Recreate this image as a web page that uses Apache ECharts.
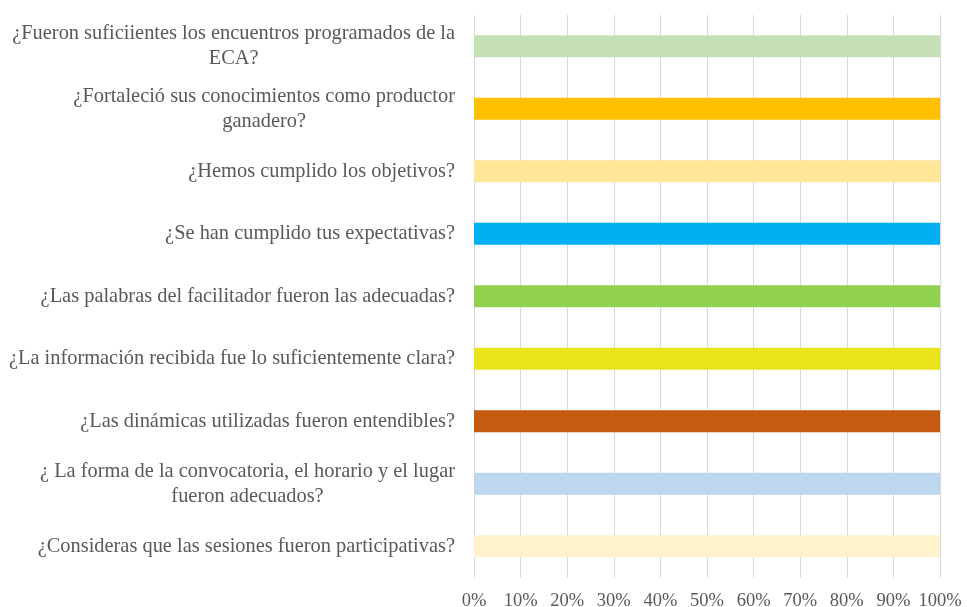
<!DOCTYPE html>
<html>
<head>
<meta charset="utf-8">
<script src="https://cdn.jsdelivr.net/npm/echarts@6/dist/echarts.min.js"></script>
<style>
  html, body { margin: 0; padding: 0; background: #ffffff; }
  #chart { width: 967px; height: 607px; }
</style>
</head>
<body>
<div id="chart"></div>
<script>
// Survey questions, top to bottom
const categories = [
  "¿Fueron suficiientes los encuentros programados de la\nECA?",
  "¿Fortaleció sus conocimientos como productor\nganadero?",
  "¿Hemos cumplido los objetivos?",
  "¿Se han cumplido tus expectativas?",
  "¿Las palabras del facilitador fueron las adecuadas?",
  "¿La información recibida fue lo suficientemente clara?",
  "¿Las dinámicas utilizadas fueron entendibles?",
  "¿ La forma de la convocatoria, el horario y el lugar\nfueron adecuados?",
  "¿Consideras que las sesiones fueron participativas?"
];
// Share of positive answers (%)
const values = [100, 100, 100, 100, 100, 100, 100, 100, 100];
const barColors = [
  "#C5E0B4", "#FFC000", "#FFE699", "#00B0F0", "#92D050",
  "#EAE31B", "#C55A11", "#BDD7EE", "#FFF2CC"
];
const tickLabels = ["0%", "10%", "20%", "30%", "40%", "50%", "60%", "70%", "80%", "90%", "100%"];

const chart = echarts.init(document.getElementById("chart"));
const serif = "Liberation Serif";

chart.setOption({
  animation: false,
  textStyle: { fontFamily: serif },
  grid: {
    left: 474, right: 27, top: 15, bottom: 29.5,
    containLabel: false,
    outerBoundsMode: "none"
  },
  xAxis: {
    type: "value",
    min: 0,
    max: 100,
    interval: 10,
    axisLine: { show: false },
    axisTick: { show: false },
    splitLine: { show: true, lineStyle: { color: "#D9D9D9", width: 1 } },
    axisLabel: {
      color: "#595959",
      fontFamily: serif,
      fontSize: 18.5,
      margin: 14,
      formatter: function (v) { return tickLabels[Math.round(v / 10)]; }
    }
  },
  yAxis: {
    type: "category",
    inverse: true,
    data: categories,
    axisLine: { show: false },
    axisTick: { show: false },
    axisLabel: {
      margin: 19,
      align: "right",
      fontFamily: serif,
      fontSize: 20.4,
      color: "#595959",
      formatter: function (v) {
        return v.split("\n").map(function (line) { return "{c|" + line + "}"; }).join("\n");
      },
      rich: {
        c: {
          align: "center",
          color: "#595959",
          fontFamily: serif,
          fontSize: 20.4,
          lineHeight: 25
        }
      }
    }
  },
  series: [{
    type: "bar",
    data: values.map(function (v, i) { return { value: v, itemStyle: { color: barColors[i] } }; }),
    barWidth: 22
  }]
});
</script>
</body>
</html>
